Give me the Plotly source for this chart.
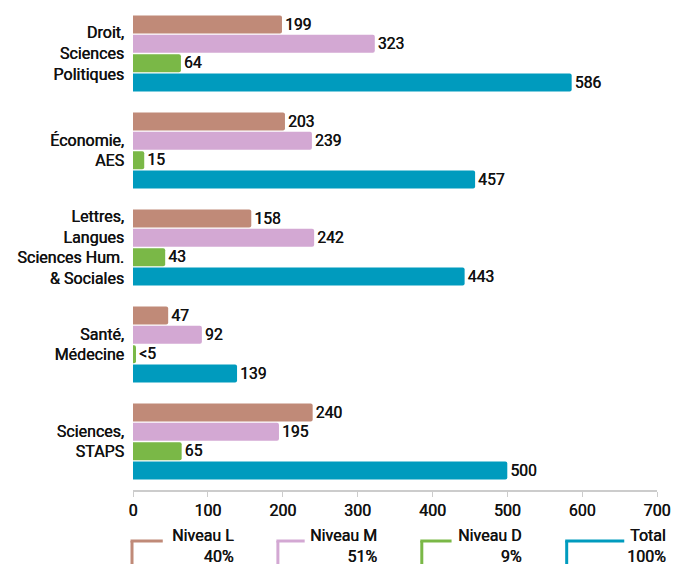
import plotly.graph_objects as go

categories = ["Droit,<br>Sciences<br>Politiques", "Économie,<br>AES",
              "Lettres,<br>Langues<br>Sciences Hum.<br>& Sociales",
              "Santé,<br>Médecine", "Sciences,<br>STAPS"]
series_names = ["Niveau L", "Niveau M", "Niveau D", "Total"]
series_shares = ["40%", "51%", "9%", "100%"]
niveau_l = [199, 203, 158, 47, 240]
niveau_m = [323, 239, 242, 92, 195]
niveau_d = [64, 15, 43, 4, 65]
total = [586, 457, 443, 139, 500]
labels_d = ["64", "15", "43", "<5", "65"]
colors = ["#C08A78", "#D3A8D3", "#7AB847", "#009BBE"]
x_ticks = [0, 100, 200, 300, 400, 500, 600, 700]

W, H = 675, 564
ML, MR, MT, MB = 133, 14, 5, 74
PLOT_W = W - ML - MR
FONT = "Roboto"
TXT = "#111111"
WT = 400
SH = "0.45px 0 0 #111111"

def fnt(size):
    return dict(family=FONT, size=size, color=TXT, weight=WT, shadow=SH)

values = [niveau_l, niveau_m, niveau_d, total]
texts = [[str(v) for v in niveau_l], [str(v) for v in niveau_m], labels_d,
         [str(v) for v in total]]

fig = go.Figure()
for name, vals, txt, col in zip(series_names, values, texts, colors):
    fig.add_trace(go.Bar(
        y=categories, x=vals, name=name, orientation="h",
        marker=dict(color=col, line=dict(width=0), cornerradius=2),
        text=txt, textposition="outside", cliponaxis=False,
        textfont=fnt(16.5),
        showlegend=False,
    ))

fig.update_layout(
    width=W, height=H, autosize=False,
    margin=dict(l=ML, r=MR, t=MT, b=MB),
    barmode="group", bargap=0.2, bargroupgap=0.07,
    plot_bgcolor="white", paper_bgcolor="white",
    font=fnt(16),
    xaxis=dict(range=[0, 700], tickvals=x_ticks, showgrid=False, zeroline=False,
               showline=True, linecolor="#CCCCCC", linewidth=1.5,
               ticks="outside", ticklen=5, tickcolor="#CCCCCC",
               tickfont=fnt(16)),
    yaxis=dict(autorange="reversed", showgrid=False, showline=False, ticks="",
               ticklabelstandoff=8,
               tickfont=fnt(16)),
)

# custom legend (L-shaped markers)
ph = H - MT - MB
def px(x):
    return (x - ML) / PLOT_W
def py(y):
    return (H - MB - y) / ph

leg_line_x = [132, 279, 424, 570]
leg_line_end = [163, 306, 454, 628]
leg_text_end = [237, 381, 527, 672]
for i in range(4):
    col = colors[i]
    fig.add_shape(type="line", xref="paper", yref="paper",
                  x0=px(leg_line_x[i]), x1=px(leg_line_x[i]), y0=py(541), y1=py(568),
                  line=dict(color=col, width=3))
    fig.add_shape(type="line", xref="paper", yref="paper",
                  x0=px(leg_line_x[i] - 1.5), x1=px(leg_line_end[i]), y0=py(541), y1=py(541),
                  line=dict(color=col, width=3))
    fig.add_annotation(xref="paper", yref="paper", x=px(leg_text_end[i]), y=py(546),
                       xanchor="right", yanchor="middle", align="right",
                       showarrow=False,
                       text=f"{series_names[i]}<br>{series_shares[i]}",
                       font=fnt(16))

fig.write_html("out.html", config={"displayModeBar": False},
               post_script="document.body.style.margin='0';document.body.style.overflow='hidden';")
